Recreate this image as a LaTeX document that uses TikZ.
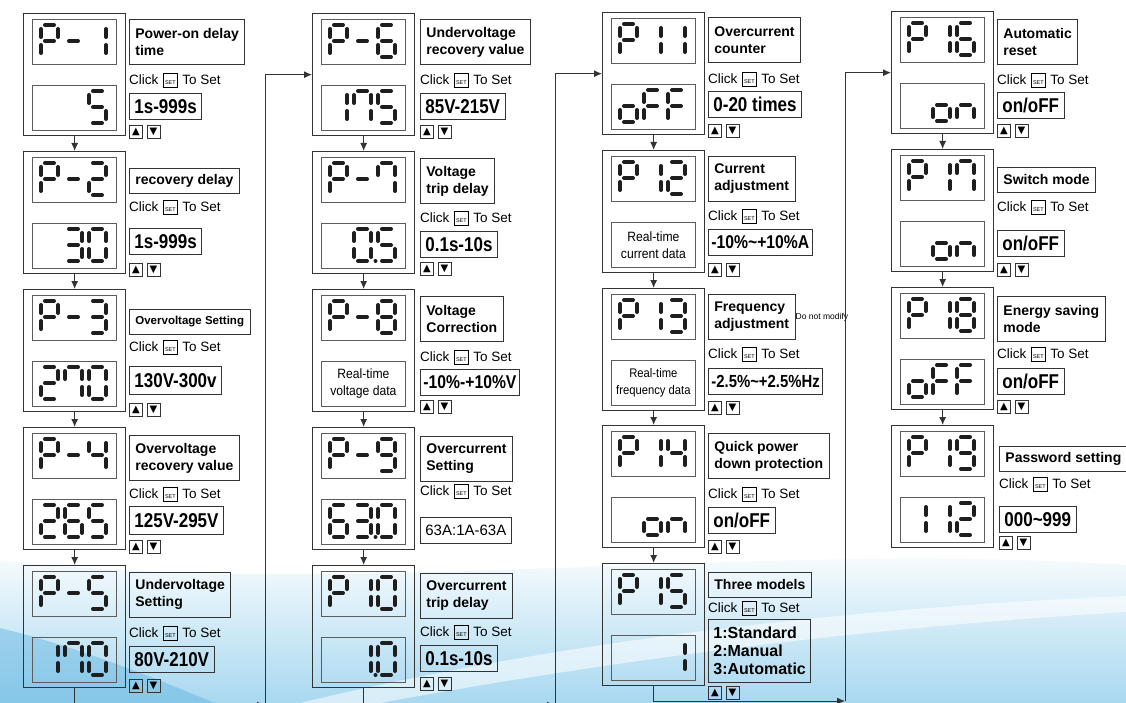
\documentclass[tikz,border=0pt]{standalone}
\usepackage{fontspec}
\setmainfont{Liberation Sans}
\newfontfamily\narrowfont[FakeStretch=0.85]{Liberation Sans}
\newfontfamily\readfont[FakeStretch=0.9]{Liberation Sans}
\newfontfamily\symfont{DejaVu Sans}
\usetikzlibrary{positioning,arrows.meta}

\definecolor{ink}{HTML}{1E1E1E}
\definecolor{rim}{HTML}{333333}
\definecolor{sky}{HTML}{A8D8F0}
\definecolor{deepsky}{HTML}{5FB3E0}

% the seven segments of one digit cell (17 wide, 32 high)
\newcommand\sega[2]{\draw[seg] (#1+4,#2) -- (#1+13,#2);}
\newcommand\segb[2]{\draw[seg] (#1+17,#2+4) -- (#1+17,#2+12);}
\newcommand\segc[2]{\draw[seg] (#1+17,#2+20) -- (#1+17,#2+28);}
\newcommand\segd[2]{\draw[seg] (#1+4,#2+32) -- (#1+13,#2+32);}
\newcommand\sege[2]{\draw[seg] (#1,#2+20) -- (#1,#2+28);}
\newcommand\segf[2]{\draw[seg] (#1,#2+4) -- (#1,#2+12);}
\newcommand\segg[2]{\draw[seg] (#1+4,#2+16) -- (#1+13,#2+16);}

\pgfkeys{/glyph/.cd,
  0/.initial={a,b,c,d,e,f}, 1/.initial={b,c}, 2/.initial={a,b,d,e,g},
  3/.initial={a,b,c,d,g}, 4/.initial={b,c,f,g}, 5/.initial={a,c,d,f,g},
  6/.initial={a,c,d,e,f,g}, 7/.initial={a,b,c,f}, 8/.initial={a,b,c,d,e,f,g},
  9/.initial={a,b,c,d,f,g}, P/.initial={a,b,e,f,g}, -/.initial={g},
  o/.initial={c,d,e,g}, F/.initial={a,e,f,g}, n/.initial={c,e,g}}

\newcommand\lcdglyph[3]{%
  \edef\seglist{\pgfkeysvalueof{/glyph/#3}}%
  \foreach \sg in \seglist {\csname seg\sg\endcsname{#1}{#2}}}

% panel left, top of digits, first cell, glyphs
\newcommand\lcdrow[4]{%
  \ifx\relax#4\relax\else
    \foreach \ch [count=\cell from #3] in {#4} {\lcdglyph{#1+18+\cell*24}{#2}{\ch}}%
  \fi}

% name, left, top, upper glyphs, first lower cell, lower glyphs
\newcommand\panel[6]{%
  \node[panel] (#1) at (#2,#3) {};
  \node[screen] (#1-hi) at (#2+9,#3+6) {};
  \node[screen] (#1-lo) at (#2+9,#3+72) {};
  \lcdrow{#2}{#3+12}{0}{#4}
  \lcdrow{#2}{#3+78}{#5}{#6}}

\newcommand\updown[3]{%
  \node[btn] (#1-inc) at (#2,#3) {▲};
  \node[btn, right=4pt of #1-inc] (#1-dec) {▼};}

\newcommand\setkey{\hspace{4.5pt}{\setlength\fboxsep{1.6pt}\setlength\fboxrule{0.5pt}%
  \fbox{\rule[-1.2pt]{0pt}{10.5pt}\fontsize{5.5}{5.5}\selectfont SET}}\hspace{4.5pt}}

\begin{document}
\begin{tikzpicture}[x=1pt, y=-1pt,
  panel/.style={draw=rim, line width=1.3pt, minimum width=102pt, minimum height=122pt, anchor=north west, inner sep=0pt},
  screen/.style={draw=rim!80, line width=0.8pt, minimum width=84pt, minimum height=45pt, anchor=north west, inner sep=0pt},
  seg/.style={ink, line width=4pt, line cap=round},
  tag/.style={draw=rim, line width=0.8pt, anchor=north west, align=left, inner xsep=6pt, inner ysep=2pt, minimum height=45pt, font=\bfseries\fontsize{14}{17}\selectfont},
  tag1/.style={tag, minimum height=25pt},
  hint/.style={anchor=base west, yshift=-4.5pt, inner sep=0pt, font=\fontsize{13.5}{15}\selectfont},
  valbox/.style={draw=rim, line width=0.8pt, anchor=north west, inner xsep=5pt, inner ysep=2pt, minimum height=26pt, font=\narrowfont\bfseries\fontsize{20}{22}\selectfont},
  pctbox/.style={valbox, inner xsep=3pt, font=\narrowfont\bfseries\fontsize{18.5}{22}\selectfont},
  btn/.style={draw=rim, line width=0.7pt, anchor=north west, minimum width=13pt, minimum height=13pt, inner sep=0pt, font=\symfont\fontsize{10}{10}\selectfont},
  readout/.style={align=center, inner sep=0pt, font=\readfont\fontsize{13.5}{17}\selectfont},
  flow/.style={draw=rim, line width=1pt, -{Latex[length=8pt,width=7pt]}}
]
\useasboundingbox (0,0) rectangle (1126,703);
% backdrop
\shade[top color=white, bottom color=sky] (0,560) .. controls (350,600) and (750,540) .. (1126,565) -- (1126,703) -- (0,703) -- cycle;
\fill[deepsky, opacity=0.45] (0,628) .. controls (90,650) and (170,685) .. (215,703) -- (0,703) -- cycle;
\fill[white, opacity=0.55] (300,703) .. controls (520,650) and (800,610) .. (1126,596) -- (1126,612) .. controls (820,630) and (560,670) .. (380,703) -- cycle;

% column 1
\panel{p1}{23}{13}{P,-,1}{2}{5}
\node[tag] (p1-tag) at (129,19) {Power-on delay\\time};
\node[hint] (p1-hint) at (129,80) {Click\setkey To Set};
\node[valbox] (p1-val) at (129,93) {1s-999s};
\updown{p1}{129}{125}

\panel{p2}{23}{151}{P,-,2}{1}{3,0}
\node[tag1] (p2-tag) at (129,168) {recovery delay};
\node[hint] (p2-hint) at (129,207) {Click\setkey To Set};
\node[valbox] (p2-val) at (129,228) {1s-999s};
\updown{p2}{129}{263}

\panel{p3}{23}{289}{P,-,3}{0}{2,7,0}
\node[tag1, font=\bfseries\fontsize{11.5}{14}\selectfont] (p3-tag) at (129,309) {Overvoltage Setting};
\node[hint] (p3-hint) at (129,347) {Click\setkey To Set};
\node[valbox, minimum height=28pt] (p3-val) at (129,366) {130V-300v};
\updown{p3}{129}{403}

\panel{p4}{23}{427}{P,-,4}{0}{2,6,5}
\node[tag] (p4-tag) at (129,435) {Overvoltage\\recovery value};
\node[hint] (p4-hint) at (129,494) {Click\setkey To Set};
\node[valbox, minimum height=28pt] (p4-val) at (129,506) {125V-295V};
\updown{p4}{129}{540}

\panel{p5}{23}{565}{P,-,5}{0}{1,7,0}
\node[tag] (p5-tag) at (129,572) {Undervoltage\\Setting};
\node[hint] (p5-hint) at (129,633) {Click\setkey To Set};
\node[valbox] (p5-val) at (129,646) {80V-210V};
\updown{p5}{129}{679}

% column 2
\panel{p6}{312}{13}{P,-,6}{0}{1,7,5}
\node[tag] (p6-tag) at (420,19) {Undervoltage\\recovery value};
\node[hint] (p6-hint) at (420,80) {Click\setkey To Set};
\node[valbox] (p6-val) at (420,93) {85V-215V};
\updown{p6}{420}{125}

\panel{p7}{312}{151}{P,-,7}{1}{0,5}
\fill[ink] (375.5,261) circle (2);
\node[tag] (p7-tag) at (420,158) {Voltage\\trip delay};
\node[hint] (p7-hint) at (420,218) {Click\setkey To Set};
\node[valbox] (p7-val) at (420,231) {0.1s-10s};
\updown{p7}{420}{262}

\panel{p8}{312}{289}{P,-,8}{0}{}
\node[readout] (p8-read) at (p8-lo) {Real-time\\voltage data};
\node[tag] (p8-tag) at (420,296) {Voltage\\Correction};
\node[hint] (p8-hint) at (420,357) {Click\setkey To Set};
\node[pctbox] (p8-val) at (420,369) {-10\%-+10\%V};
\updown{p8}{420}{400}

\panel{p9}{312}{427}{P,-,9}{0}{6,3,0}
\fill[ink] (375.5,537) circle (2);
\node[tag] (p9-tag) at (420,436) {Overcurrent\\Setting};
\node[hint] (p9-hint) at (420,491) {Click\setkey To Set};
\node[valbox, font=\fontsize{15}{17}\selectfont] (p9-val) at (420,517) {63A:1A-63A};

\panel{p10}{312}{565}{P,1,0}{1}{1,0}
\fill[ink] (375.5,675) circle (2);
\node[tag] (p10-tag) at (420,573) {Overcurrent\\trip delay};
\node[hint] (p10-hint) at (420,632) {Click\setkey To Set};
\node[valbox] (p10-val) at (420,645) {0.1s-10s};
\updown{p10}{420}{677}

% column 3
\panel{p11}{602}{12}{P,1,1}{0}{o,F,F}
\node[tag] (p11-tag) at (708,17) {Overcurrent\\counter};
\node[hint] (p11-hint) at (708,79) {Click\setkey To Set};
\node[valbox] (p11-val) at (708,91) {0-20 times};
\updown{p11}{708}{124}

\panel{p12}{602}{150}{P,1,2}{0}{}
\node[readout] (p12-read) at (p12-lo) {Real-time\\current data};
\node[tag] (p12-tag) at (708,156) {Current\\adjustment};
\node[hint] (p12-hint) at (708,216) {Click\setkey To Set};
\node[pctbox] (p12-val) at (708,229) {-10\%\textasciitilde+10\%A};
\updown{p12}{708}{263}

\panel{p13}{602}{288}{P,1,3}{0}{}
\node[readout, font=\readfont\fontsize{12.5}{17}\selectfont] (p13-read) at (p13-lo) {Real-time\\frequency data};
\node[tag] (p13-tag) at (708,294) {Frequency\\adjustment};
\node[anchor=west, inner sep=0pt, font=\fontsize{8.5}{10}\selectfont] (p13-note) at (p13-tag.east) {Do not modify};
\node[hint] (p13-hint) at (708,354) {Click\setkey To Set};
\node[pctbox, font=\narrowfont\bfseries\fontsize{17.5}{22}\selectfont] (p13-val) at (708,368) {-2.5\%\textasciitilde+2.5\%Hz};
\updown{p13}{708}{401}

\panel{p14}{602}{425}{P,1,4}{1}{o,n}
\node[tag] (p14-tag) at (708,433) {Quick power\\down protection};
\node[hint] (p14-hint) at (708,494) {Click\setkey To Set};
\node[valbox] (p14-val) at (708,507) {on/oFF};
\updown{p14}{708}{540}

\panel{p15}{602}{563}{P,1,5}{2}{1}
\node[tag1] (p15-tag) at (708,572) {Three models};
\node[hint] (p15-hint) at (708,608) {Click\setkey To Set};
\node[valbox, align=left, minimum height=63pt, inner ysep=4pt, font=\bfseries\fontsize{16}{18}\selectfont] (p15-val) at (708,619) {1:Standard\\2:Manual\\3:Automatic};
\updown{p15}{708}{686}

% column 4
\panel{p16}{891}{11}{P,1,6}{1}{o,n}
\node[tag] (p16-tag) at (997,19) {Automatic\\reset};
\node[hint] (p16-hint) at (997,80) {Click\setkey To Set};
\node[valbox] (p16-val) at (997,92) {on/oFF};
\updown{p16}{997}{124}

\panel{p17}{891}{149}{P,1,7}{1}{o,n}
\node[tag1] (p17-tag) at (997,167) {Switch mode};
\node[hint] (p17-hint) at (997,207) {Click\setkey To Set};
\node[valbox] (p17-val) at (997,230) {on/oFF};
\updown{p17}{997}{263}

\panel{p18}{891}{287}{P,1,8}{0}{o,F,F}
\node[tag] (p18-tag) at (997,296) {Energy saving\\mode};
\node[hint] (p18-hint) at (997,354) {Click\setkey To Set};
\node[valbox] (p18-val) at (997,368) {on/oFF};
\updown{p18}{997}{400}

\panel{p19}{891}{425}{P,1,9}{0}{1,1,2}
\node[tag1] (p19-tag) at (999,446) {Password setting};
\node[hint] (p19-hint) at (999,484) {Click\setkey To Set};
\node[valbox] (p19-val) at (999,506) {000\textasciitilde999};
\updown{p19}{999}{536}

% connectors
\foreach \a/\b in {p1/p2,p2/p3,p3/p4,p4/p5,p6/p7,p7/p8,p8/p9,p9/p10,
                   p11/p12,p12/p13,p13/p14,p14/p15,p16/p17,p17/p18,p18/p19}
  \draw[flow] (\a) -- (\b);
\coordinate (turn1) at (265,705);
\coordinate (turn2) at (555,705);
\coordinate (turn3) at (845,701);
\foreach \a/\t/\b in {p5/turn1/p6, p10/turn2/p11, p15/turn3/p16} {
  \draw[flow] (\a) |- (\t);
  \draw[flow] (\t) |- (\b);
}
\end{tikzpicture}
\end{document}
